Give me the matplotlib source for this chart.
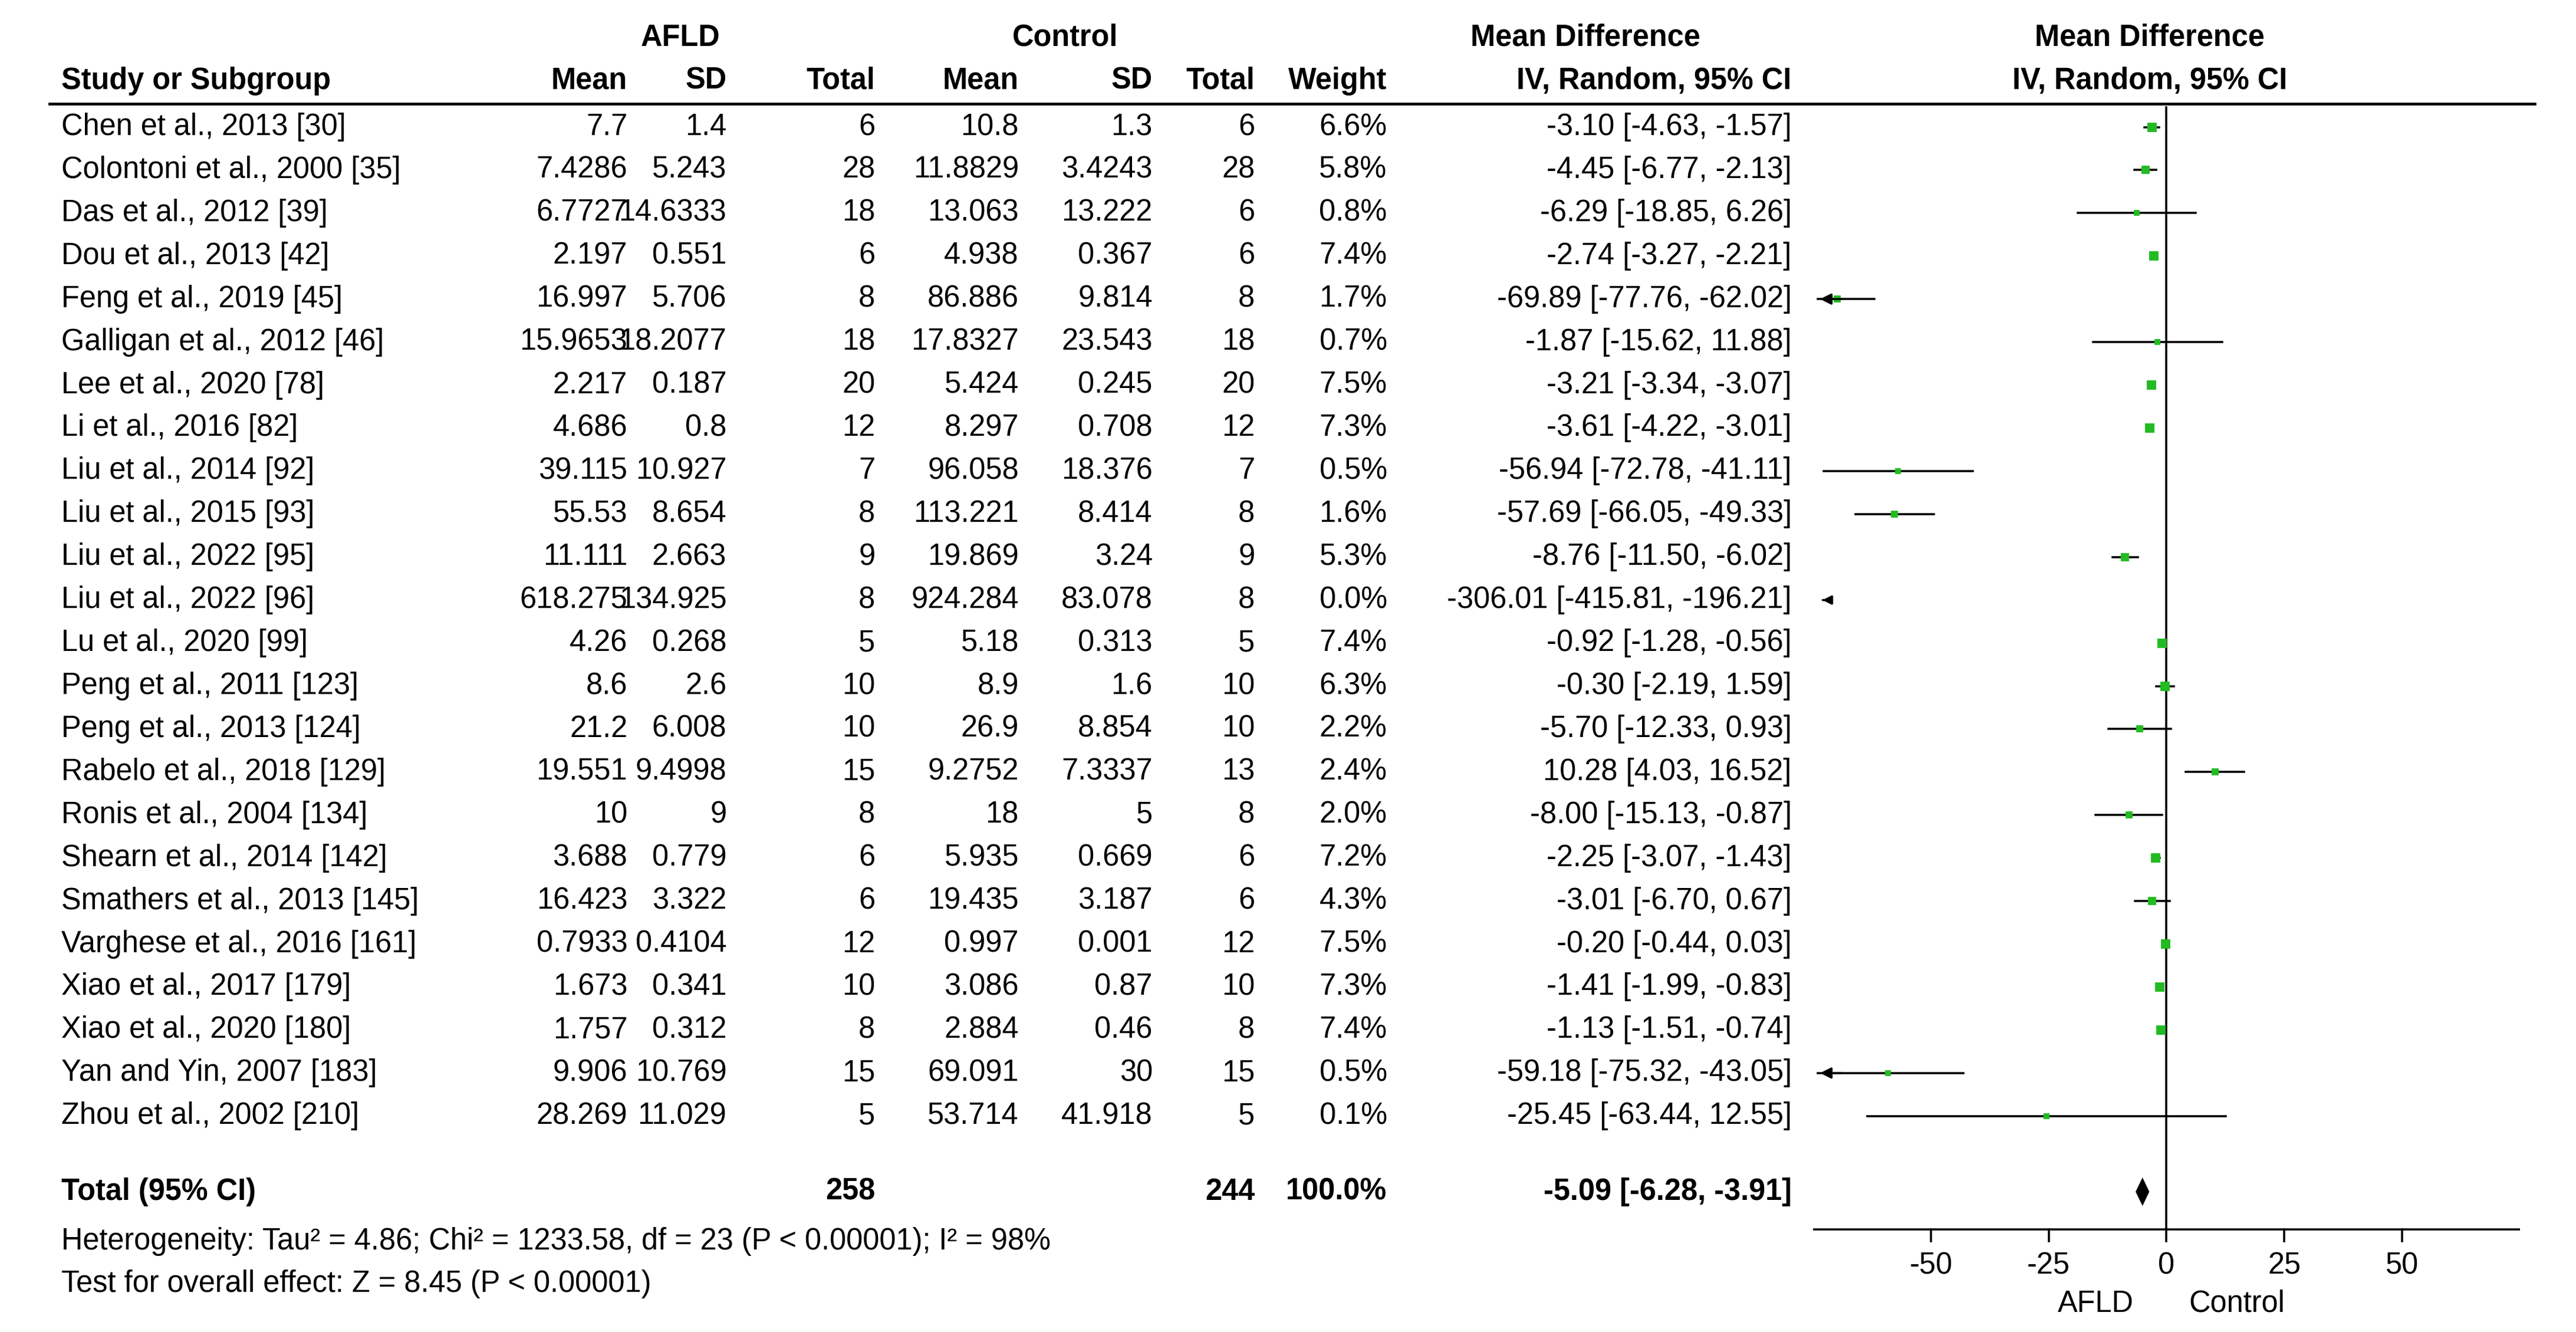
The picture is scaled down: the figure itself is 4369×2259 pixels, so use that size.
import matplotlib
matplotlib.use("Agg")
import matplotlib.pyplot as plt
from matplotlib.patches import Polygon

plt.rcParams["font.family"] = "Liberation Sans"

studies = ["Chen et al., 2013 [30]", "Colontoni et al., 2000 [35]", "Das et al., 2012 [39]", "Dou et al., 2013 [42]",
           "Feng et al., 2019 [45]", "Galligan et al., 2012 [46]", "Lee et al., 2020 [78]", "Li et al., 2016 [82]",
           "Liu et al., 2014 [92]", "Liu et al., 2015 [93]", "Liu et al., 2022 [95]", "Liu et al., 2022 [96]",
           "Lu et al., 2020 [99]", "Peng et al., 2011 [123]", "Peng et al., 2013 [124]", "Rabelo et al., 2018 [129]",
           "Ronis et al., 2004 [134]", "Shearn et al., 2014 [142]", "Smathers et al., 2013 [145]",
           "Varghese et al., 2016 [161]", "Xiao et al., 2017 [179]", "Xiao et al., 2020 [180]",
           "Yan and Yin, 2007 [183]", "Zhou et al., 2002 [210]"]
afld_mean = ["7.7", "7.4286", "6.7727", "2.197", "16.997", "15.9653", "2.217", "4.686", "39.115", "55.53", "11.111",
             "618.275", "4.26", "8.6", "21.2", "19.551", "10", "3.688", "16.423", "0.7933", "1.673", "1.757", "9.906", "28.269"]
afld_sd = ["1.4", "5.243", "14.6333", "0.551", "5.706", "18.2077", "0.187", "0.8", "10.927", "8.654", "2.663",
           "134.925", "0.268", "2.6", "6.008", "9.4998", "9", "0.779", "3.322", "0.4104", "0.341", "0.312", "10.769", "11.029"]
afld_n = [6, 28, 18, 6, 8, 18, 20, 12, 7, 8, 9, 8, 5, 10, 10, 15, 8, 6, 6, 12, 10, 8, 15, 5]
ctrl_mean = ["10.8", "11.8829", "13.063", "4.938", "86.886", "17.8327", "5.424", "8.297", "96.058", "113.221", "19.869",
             "924.284", "5.18", "8.9", "26.9", "9.2752", "18", "5.935", "19.435", "0.997", "3.086", "2.884", "69.091", "53.714"]
ctrl_sd = ["1.3", "3.4243", "13.222", "0.367", "9.814", "23.543", "0.245", "0.708", "18.376", "8.414", "3.24",
           "83.078", "0.313", "1.6", "8.854", "7.3337", "5", "0.669", "3.187", "0.001", "0.87", "0.46", "30", "41.918"]
ctrl_n = [6, 28, 6, 6, 8, 18, 20, 12, 7, 8, 9, 8, 5, 10, 10, 13, 8, 6, 6, 12, 10, 8, 15, 5]
weight = [6.6, 5.8, 0.8, 7.4, 1.7, 0.7, 7.5, 7.3, 0.5, 1.6, 5.3, 0.0, 7.4, 6.3, 2.2, 2.4, 2.0, 7.2, 4.3, 7.5, 7.3, 7.4, 0.5, 0.1]
md = [-3.10, -4.45, -6.29, -2.74, -69.89, -1.87, -3.21, -3.61, -56.94, -57.69, -8.76, -306.01, -0.92, -0.30, -5.70,
      10.28, -8.00, -2.25, -3.01, -0.20, -1.41, -1.13, -59.18, -25.45]
lo = [-4.63, -6.77, -18.85, -3.27, -77.76, -15.62, -3.34, -4.22, -72.78, -66.05, -11.50, -415.81, -1.28, -2.19, -12.33,
      4.03, -15.13, -3.07, -6.70, -0.44, -1.99, -1.51, -75.32, -63.44]
hi = [-1.57, -2.13, 6.26, -2.21, -62.02, 11.88, -3.07, -3.01, -41.11, -49.33, -6.02, -196.21, -0.56, 1.59, 0.93,
      16.52, -0.87, -1.43, 0.67, 0.03, -0.83, -0.74, -43.05, 12.55]
total = (-5.09, -6.28, -3.91)
ticks = [-50, -25, 0, 25, 50]

W, H = 1560, 807
fig = plt.figure(figsize=(4369 / 280, 2259 / 280), dpi=280)
ax = fig.add_axes([0, 0, 1, 1])
ax.set_xlim(0, W); ax.set_ylim(H, 0); ax.axis("off")
fs = 13

def t(x, y, s, ha="right", bold=False):
    ax.text(x, y, s, ha=ha, va="center", fontsize=fs, fontweight="bold" if bold else "normal")

t(412, 23, "AFLD", "center", True)
t(645, 23, "Control", "center", True)
t(960, 23, "Mean Difference", "center", True)
t(1302, 23, "Mean Difference", "center", True)
y0 = 49
t(37, y0, "Study or Subgroup", "left", True)
for x, s in [(380, "Mean"), (440, "SD"), (530, "Total"), (617, "Mean"), (698, "SD"), (760, "Total"), (840, "Weight"),
             (1085, "IV, Random, 95% CI")]:
    t(x, y0, s, "right", True)
t(1302, y0, "IV, Random, 95% CI", "center", True)
ax.plot([30, 1535], [63, 63], color="black", lw=1.2)

ys = [77 + i * 26.05 for i in range(len(studies))]
for i, y in enumerate(ys):
    t(37, y, studies[i], "left")
    t(380, y, afld_mean[i]); t(440, y, afld_sd[i]); t(530, y, str(afld_n[i]))
    t(617, y, ctrl_mean[i]); t(698, y, ctrl_sd[i]); t(760, y, str(ctrl_n[i]))
    t(840, y, f"{weight[i]:.1f}%")
    t(1085, y, f"{md[i]:.2f} [{lo[i]:.2f}, {hi[i]:.2f}]")
yt = 722
t(37, yt, "Total (95% CI)", "left", True)
t(530, yt, str(sum(afld_n)), bold=True); t(760, yt, str(sum(ctrl_n)), bold=True)
t(840, yt, "100.0%", bold=True)
t(1085, yt, f"{total[0]:.2f} [{total[1]:.2f}, {total[2]:.2f}]", bold=True)
t(37, 752, "Heterogeneity: Tau² = 4.86; Chi² = 1233.58, df = 23 (P < 0.00001); I² = 98%", "left")
t(37, 778, "Test for overall effect: Z = 8.45 (P < 0.00001)", "left")

x0, x1 = 1098, 1526
fa = fig.add_axes([x0 / W, 0, (x1 - x0) / W, 1])
fa.set_xlim(-75, 75); fa.set_ylim(H, 0); fa.axis("off")
fa.plot([0, 0], [65, 745], color="black", lw=0.9)
fa.plot([-75, 75], [745, 745], color="black", lw=0.9)
for tk in ticks:
    fa.plot([tk, tk], [745, 752], color="black", lw=0.9)
    fa.text(tk, 767, str(tk), ha="center", va="center", fontsize=fs)
fa.text(-15, 790, "AFLD", ha="center", va="center", fontsize=fs)
fa.text(15, 790, "Control", ha="center", va="center", fontsize=fs)
for i, y in enumerate(ys):
    l, h, m = lo[i], hi[i], md[i]
    if h < -75:
        fa.annotate("", xy=(-74, y), xytext=(-72, y),
                    arrowprops=dict(arrowstyle="-|>", color="black", lw=0.9, mutation_scale=8))
        continue
    lc = max(l, -74)
    fa.plot([lc, h], [y, y], color="black", lw=0.9)
    if l < -75:
        fa.annotate("", xy=(-74.5, y), xytext=(-68, y),
                    arrowprops=dict(arrowstyle="-|>", color="black", lw=0.9, mutation_scale=10))
    if -75 < m < 75:
        sz = 1.5 + weight[i] * 0.22
        fa.plot(m, y, marker="s", color="#22bb22", ms=sz, mec="#22bb22")
dm, dl, dh = total
fa.add_patch(Polygon([[dl, yt], [dm, yt - 7], [dh, yt], [dm, yt + 7]], closed=True, color="black"))

fig.savefig("out.png", dpi=280)
